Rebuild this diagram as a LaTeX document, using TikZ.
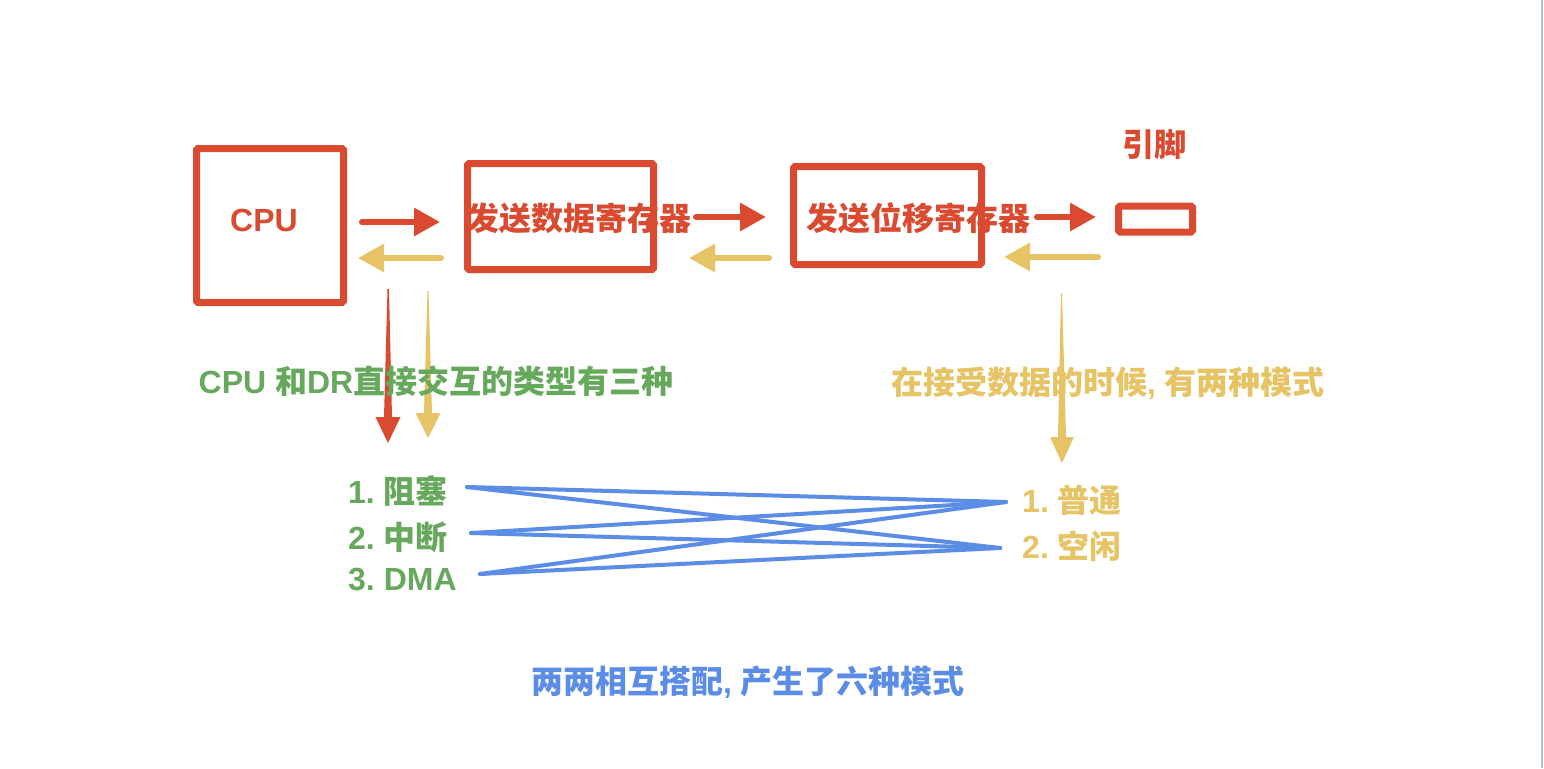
\documentclass[tikz,border=0pt]{standalone}
\usepackage{fontspec}
\newfontfamily\cjk{Noto Sans CJK SC}
\newfontfamily\lat{Liberation Sans}
\usetikzlibrary{arrows.meta}
\definecolor{cred}{HTML}{DA4A30}
\definecolor{cyel}{HTML}{E6C364}
\definecolor{cgrn}{HTML}{67A95C}
\definecolor{cblu}{HTML}{5B8DE6}
\definecolor{cedge}{HTML}{B8C0C8}
\tikzset{
  regbox/.style={draw=cred,line width=7pt,rounded corners=1.5pt,inner sep=0pt},
  lbl/.style={inner sep=0pt,font=\cjk\bfseries\fontsize{32}{37}\selectfont},
  harrow/.style={line width=6pt,line cap=round,-{Triangle[length=26pt,width=27pt]}},
  combo/.style={draw=cblu,line width=4pt,line cap=round},
}
\newcommand{\numgap}[1]{{\lat\bfseries #1}\hspace{9pt}}
\begin{document}
\begin{tikzpicture}[x=1pt,y=-1pt]
\useasboundingbox (0,0) rectangle (1544,768);
\fill[white] (0,0) rectangle (1544,768);
\draw[cedge,line width=2pt] (1542,0) -- (1542,768);
% boxes
\node[regbox,minimum width=147pt,minimum height=154pt] (cpu) at (270,225.5) {};
\node[regbox,minimum width=186pt,minimum height=106pt] (dr) at (560.5,216.5) {};
\node[regbox,minimum width=188pt,minimum height=98pt] (sr) at (887.5,215.5) {};
\node[regbox,minimum width=74pt,minimum height=26pt] (pin) at (1155.5,219) {};
% box texts
\node[lbl,text=cred] (cputxt) at (264,220) {\lat\bfseries CPU};
\node[lbl,text=cred] (drtxt) at (579,218) {发送数据寄存器};
\node[lbl,text=cred] (srtxt) at (918,218) {发送位移寄存器};
\node[lbl,text=cred] (pintxt) at (1154,145) {引脚};
% horizontal arrow coordinates
\coordinate (a1s) at (362,222); \coordinate (a1e) at (440,222);
\coordinate (b1s) at (441,258); \coordinate (b1e) at (358,258);
\coordinate (a2s) at (696,217); \coordinate (a2e) at (766,217);
\coordinate (b2s) at (769,258); \coordinate (b2e) at (689,258);
\coordinate (a3s) at (1037,217); \coordinate (a3e) at (1096,217);
\coordinate (b3s) at (1098,257); \coordinate (b3e) at (1004,257);
\draw[harrow,cred] (a1s) -- (a1e);
\draw[harrow,cyel] (b1s) -- (b1e);
\draw[harrow,cred] (a2s) -- (a2e);
\draw[harrow,cyel] (b2s) -- (b2e);
\draw[harrow,cred] (a3s) -- (a3e);
\draw[harrow,cyel] (b3s) -- (b3e);
% tapered vertical arrows
\fill[cred] (387.5,289) -- (389,289) -- (392,417) -- (400.5,417) -- (388,443) -- (375.5,417) -- (384,417) -- cycle;
\fill[cyel] (427.5,291) -- (428.5,291) -- (432,413) -- (440.5,413) -- (428,438) -- (415.5,413) -- (424,413) -- cycle;
\fill[cyel] (1061,293) -- (1062,293) -- (1066,437) -- (1074,437) -- (1062,463) -- (1050,437) -- (1058,437) -- cycle;
% captions
\node[lbl,text=cgrn] (gcap) at (436,381) {{\lat\bfseries CPU }和{\lat\bfseries DR}直接交互的类型有三种};
\node[lbl,text=cyel] (ycap) at (1108,383) {在接受数据的时候{\lat\bfseries , }有两种模式};
\node[lbl,text=cblu] (bcap) at (748,682) {两两相互搭配{\lat\bfseries , }产生了六种模式};
% lists
\node[lbl,text=cgrn,anchor=west] (l1) at (348,491) {\numgap{1.}阻塞};
\node[lbl,text=cgrn,anchor=west] (l2) at (348,537) {\numgap{2.}中断};
\node[lbl,text=cgrn,anchor=west] (l3) at (348,580) {\numgap{3.}{\lat\bfseries DMA}};
\node[lbl,text=cyel,anchor=west] (r1) at (1022,500) {\numgap{1.}普通};
\node[lbl,text=cyel,anchor=west] (r2) at (1022,546) {\numgap{2.}空闲};
% combination lines
\coordinate (p1) at (467,487); \coordinate (p2) at (471,533); \coordinate (p3) at (480,574);
\coordinate (q1) at (1006,502); \coordinate (q2) at (1000,548);
\draw[combo] (p1) -- (q1);
\draw[combo] (p1) -- (q2);
\draw[combo] (p2) -- (q1);
\draw[combo] (p2) -- (q2);
\draw[combo] (p3) -- (q1);
\draw[combo] (p3) -- (q2);
\end{tikzpicture}
\end{document}
